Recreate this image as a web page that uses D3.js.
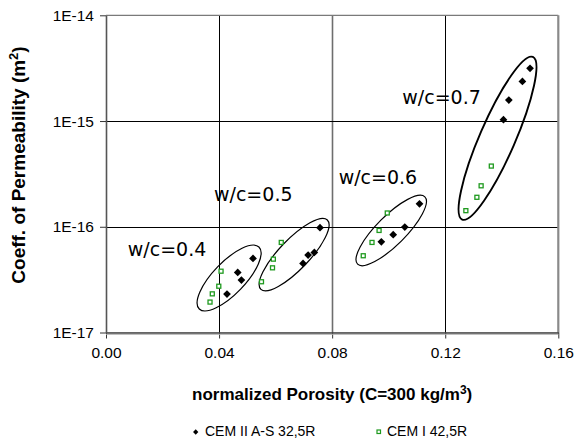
<!DOCTYPE html>
<html>
<head>
<meta charset="utf-8">
<script src="https://cdn.jsdelivr.net/npm/d3@7/dist/d3.min.js"></script>
<style>
  html, body { margin: 0; padding: 0; background: #fff; }
  svg { display: block; }
</style>
</head>
<body>
<svg id="chart" width="577" height="441"></svg>
<script>
// CEM II A-S 32,5R (black diamonds)
const cem2Porosity = [0.0428, 0.0466, 0.0479, 0.0520, 0.0697, 0.0715, 0.0737, 0.0757,
                      0.0974, 0.1016, 0.1057, 0.1109, 0.1406, 0.1425, 0.1473, 0.1500];
const cem2Perm = [2.31e-17, 3.70e-17, 3.13e-17, 5.02e-17, 4.50e-17, 5.40e-17, 5.71e-17, 9.80e-17,
                  7.21e-17, 8.41e-17, 9.93e-17, 1.65e-16, 1.03e-15, 1.58e-15, 2.37e-15, 3.15e-15];

// CEM I 42,5R (green open squares)
const cem1Porosity = [0.0368, 0.0376, 0.0399, 0.0407, 0.0550, 0.0589, 0.0592, 0.0620,
                      0.0910, 0.0941, 0.0966, 0.0995, 0.1273, 0.1312, 0.1327, 0.1363];
const cem1Perm = [1.94e-17, 2.32e-17, 2.74e-17, 3.80e-17, 3.02e-17, 4.09e-17, 4.94e-17, 7.11e-17,
                  5.32e-17, 7.11e-17, 9.23e-17, 1.35e-16, 1.42e-16, 1.90e-16, 2.44e-16, 3.75e-16];

const seriesNames = ["CEM II A-S 32,5R", "CEM I 42,5R"];

// w/c groups: label and the ends of each enclosing ellipse's long axis (porosity, permeability)
const groupLabels = ["w/c=0.4", "w/c=0.5", "w/c=0.6", "w/c=0.7"];
const labelPorosity = [0.0077, 0.0382, 0.0823, 0.1048];
const labelPerm = [5.28e-17, 1.76e-16, 2.54e-16, 1.44e-15];
const ellipseStartPorosity = [0.0330, 0.0548, 0.0890, 0.1260];
const ellipseStartPerm = [1.67e-17, 2.56e-17, 4.43e-17, 1.17e-16];
const ellipseEndPorosity = [0.0541, 0.0783, 0.1128, 0.1510];
const ellipseEndPerm = [6.43e-17, 1.16e-16, 1.92e-16, 4.04e-15];
const ellipseHalfWidth = [16, 15, 14.6, 17.7];

const xTicks = [0, 0.04, 0.08, 0.12, 0.16];
const yTicks = [1e-17, 1e-16, 1e-15, 1e-14];
const yTickLabels = ["1E-17", "1E-16", "1E-15", "1E-14"];

const sansFont = "Liberation Sans, Arial, sans-serif";
const labelFont = "DejaVu Sans, sans-serif";

const svg = d3.select("#chart");
const plotLeft = 106, plotRight = 558.3, plotTop = 15.3, plotBottom = 332.5;

const x = d3.scaleLinear().domain([0, 0.16]).range([plotLeft, plotRight]);
const y = d3.scaleLog().domain([1e-17, 1e-14]).range([plotBottom, plotTop]);

svg.append("rect").attr("width", 577).attr("height", 441).attr("fill", "#fff");

// gridlines
svg.append("g").selectAll("line").data(xTicks.slice(1, -1)).join("line")
  .attr("x1", d => Math.round(x(d)) + 0.5).attr("x2", d => Math.round(x(d)) + 0.5)
  .attr("y1", plotTop).attr("y2", plotBottom)
  .attr("stroke", (d, i) => i === 1 ? "#6e6e6e" : "#000").attr("stroke-width", (d, i) => i === 1 ? 1.6 : 1);
svg.append("g").selectAll("line").data(yTicks.slice(1, -1)).join("line")
  .attr("x1", plotLeft).attr("x2", plotRight)
  .attr("y1", d => Math.round(y(d)) + 0.5).attr("y2", d => Math.round(y(d)) + 0.5)
  .attr("stroke", "#000");

// plot frame
svg.append("line").attr("x1", plotLeft).attr("x2", plotRight).attr("y1", plotTop).attr("y2", plotTop)
  .attr("stroke", "#7a7a7a").attr("stroke-width", 1.2);
svg.append("line").attr("x1", plotRight).attr("x2", plotRight).attr("y1", plotTop).attr("y2", plotBottom)
  .attr("stroke", "#8a8a8a").attr("stroke-width", 2.2);

// axes
const xAxis = d3.axisBottom(x).tickValues(xTicks).tickFormat(d3.format(".2f")).tickSizeInner(6).tickSizeOuter(0).tickPadding(8);
const gx = svg.append("g").attr("transform", `translate(0,${plotBottom})`).call(xAxis);
gx.select(".domain").attr("stroke", "#333").attr("stroke-width", 1.4);
gx.selectAll(".tick line").attr("stroke", "#333");
gx.selectAll("text").style("font-size", "15.5px").style("font-family", sansFont).attr("fill", "#000");
svg.append("line").attr("x1", plotLeft).attr("x2", plotRight).attr("y1", plotBottom + 1.8).attr("y2", plotBottom + 1.8)
  .attr("stroke", "#b0b0b0").attr("stroke-width", 1);

const yAxis = d3.axisLeft(y).tickValues(yTicks).tickFormat((d, i) => yTickLabels[i]).tickSizeInner(6).tickSizeOuter(0).tickPadding(6);
const gy = svg.append("g").attr("transform", `translate(${plotLeft},0)`).call(yAxis);
gy.select(".domain").attr("stroke", "#555").attr("stroke-width", 1.6);
gy.selectAll(".tick line").attr("stroke", "#333");
gy.selectAll("text").style("font-size", "15.5px").style("font-family", sansFont).attr("fill", "#000");

// ellipses around each w/c group
groupLabels.forEach((g, i) => {
  const x1 = x(ellipseStartPorosity[i]), y1 = y(ellipseStartPerm[i]);
  const x2 = x(ellipseEndPorosity[i]), y2 = y(ellipseEndPerm[i]);
  const cx = (x1 + x2) / 2, cy = (y1 + y2) / 2;
  const rx = Math.hypot(x2 - x1, y2 - y1) / 2;
  const ang = Math.atan2(y2 - y1, x2 - x1) * 180 / Math.PI;
  svg.append("ellipse")
    .attr("cx", cx).attr("cy", cy).attr("rx", rx).attr("ry", ellipseHalfWidth[i])
    .attr("transform", `rotate(${ang},${cx},${cy})`)
    .attr("fill", "none").attr("stroke", "#000").attr("stroke-width", i === 3 ? 1.9 : 1.2);
});

// group labels
svg.append("g").selectAll("text").data(groupLabels).join("text")
  .attr("x", (d, i) => x(labelPorosity[i]))
  .attr("y", (d, i) => y(labelPerm[i]))
  .style("font-family", labelFont).style("font-size", "19px")
  .attr("fill", "#000").text(d => d);

// CEM I 42,5R markers
const greenColor = "#1f9a1f";
svg.append("g").selectAll("rect").data(d3.range(cem1Porosity.length)).join("rect")
  .attr("x", i => x(cem1Porosity[i]) - 2).attr("y", i => y(cem1Perm[i]) - 2)
  .attr("width", 4).attr("height", 4)
  .attr("fill", "#fff").attr("stroke", greenColor).attr("stroke-width", 1.3);

// CEM II A-S 32,5R markers
const diamond = d3.symbol().type(d3.symbolSquare).size(30);
svg.append("g").selectAll("path").data(d3.range(cem2Porosity.length)).join("path")
  .attr("d", diamond)
  .attr("transform", i => `translate(${x(cem2Porosity[i])},${y(cem2Perm[i])}) rotate(45)`)
  .attr("fill", "#000");

// axis titles
svg.append("text")
  .attr("x", (plotLeft + plotRight) / 2).attr("y", 400)
  .attr("text-anchor", "middle")
  .style("font-family", sansFont).style("font-weight", "bold").style("font-size", "17px")
  .html('normalized Porosity (C=300 kg/m<tspan dy="-6" font-size="12">3</tspan><tspan dy="6">)</tspan>');
svg.append("text")
  .attr("transform", `translate(25,165) rotate(-90)`)
  .attr("text-anchor", "middle")
  .style("font-family", sansFont).style("font-weight", "bold").style("font-size", "19px")
  .html('Coeff. of Permeability (m<tspan dy="-7" font-size="13">2</tspan><tspan dy="7">)</tspan>');

// legend
const legend = svg.append("g");
legend.append("path").attr("d", d3.symbol().type(d3.symbolSquare).size(14))
  .attr("transform", "translate(195.7,432) rotate(45)").attr("fill", "#000");
legend.append("text").attr("x", 205).attr("y", 436)
  .style("font-family", sansFont).style("font-size", "14px").text(seriesNames[0]);
legend.append("rect").attr("x", 377).attr("y", 430).attr("width", 3.5).attr("height", 3.5)
  .attr("fill", "#fff").attr("stroke", greenColor).attr("stroke-width", 1.2);
legend.append("text").attr("x", 387).attr("y", 436)
  .style("font-family", sansFont).style("font-size", "14px").text(seriesNames[1]);
</script>
</body>
</html>
